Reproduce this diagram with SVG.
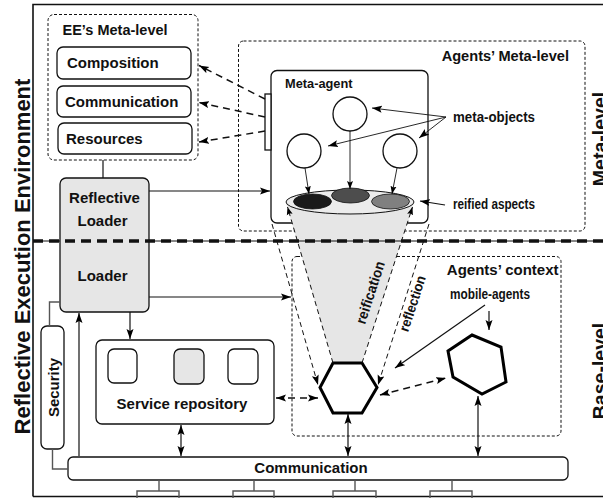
<svg xmlns="http://www.w3.org/2000/svg" width="603" height="498" viewBox="0 0 603 498">
<defs>
<marker id="ah" markerUnits="userSpaceOnUse" markerWidth="11" markerHeight="8" refX="10" refY="4" orient="auto-start-reverse" viewBox="0 0 11 8">
<path d="M0,0.5 L10,4 L0,7.5 L2,4 z" fill="#000"/>
</marker>
<marker id="ahs" markerUnits="userSpaceOnUse" markerWidth="9" markerHeight="7" refX="8" refY="3.5" orient="auto-start-reverse" viewBox="0 0 9 7">
<path d="M0,0.5 L8,3.5 L0,6.5 L1.5,3.5 z" fill="#000"/>
</marker>
</defs>
<style>
text{font-family:"Liberation Sans",Arial,sans-serif;font-weight:bold;fill:#111}
.box{fill:#fff;stroke:#111;stroke-width:1.3}
.gray{fill:#e6e6e6;stroke:#111;stroke-width:1.3}
.dot{fill:none;stroke:#111;stroke-width:1;stroke-dasharray:3 2}
.ln{fill:none;stroke:#111;stroke-width:1.2}
.thin{fill:none;stroke:#111;stroke-width:0.9}
.dash{fill:none;stroke:#111;stroke-width:1.5;stroke-dasharray:7 5}
.tdash{fill:none;stroke:#111;stroke-width:1;stroke-dasharray:5 3.5}
.hex{fill:#fff;stroke:#000;stroke-width:3;stroke-linejoin:miter}
.grayln{fill:none;stroke:#555;stroke-width:1.4}
.t15{font-size:15px}
.narrow{font-size:14px}
</style>

<g id="frame">
<path d="M33,496.5 L33,4.5 L603,4.5" fill="none" stroke="#111" stroke-width="1.6"/>
<path d="M33,496.5 L603,496.5" fill="none" stroke="#111" stroke-width="1.6"/>
<text transform="translate(29.5,256.5) rotate(-90)" text-anchor="middle" font-size="22">Reflective Execution Environment</text>
<text transform="translate(607,139) rotate(-90)" text-anchor="middle" font-size="19.5">Meta-level</text>
<text transform="translate(607,371) rotate(-90)" text-anchor="middle" font-size="19.5">Base-level</text>
</g>

<g id="ee-meta-level">
<rect x="48" y="14.5" width="150" height="145.5" rx="6" class="dot"/>
<text x="62.5" y="34.5" font-size="14.5">EE’s Meta-level</text>
</g>
<g id="composition">
<rect x="57" y="47" width="134" height="32" rx="6" class="box"/>
<text x="67" y="68" class="t15">Composition</text>
</g>
<g id="communication-meta">
<rect x="57" y="86" width="134" height="31" rx="6" class="box"/>
<text x="65" y="107" class="t15">Communication</text>
</g>
<g id="resources">
<rect x="58" y="123" width="134" height="31" rx="6" class="box"/>
<text x="66" y="144" class="t15">Resources</text>
</g>

<g id="reflective-loader">
<rect x="60" y="178" width="89" height="134" rx="6" class="gray"/>
<text x="104.5" y="203" text-anchor="middle" class="t15">Reflective</text>
<text x="102.5" y="226" text-anchor="middle" class="t15">Loader</text>
<text x="102.5" y="281" text-anchor="middle" class="t15">Loader</text>
</g>

<g id="security">
<rect x="41" y="326" width="23" height="123" rx="6" class="box"/>
<text transform="translate(59,387.5) rotate(-90)" text-anchor="middle" class="t15">Security</text>
</g>

<g id="service-repository">
<rect x="96" y="340" width="178" height="84" rx="6" class="box"/>
<rect x="108" y="349" width="29" height="34" rx="6" class="box"/>
<rect x="174" y="349" width="30" height="35" rx="6" class="gray"/>
<rect x="228" y="349" width="30" height="35" rx="6" class="box"/>
<text x="182" y="408.5" text-anchor="middle" class="t15">Service repository</text>
</g>

<g id="communication-bus">
<rect x="68" y="457" width="500" height="23" rx="5" class="box"/>
<text x="311" y="473" text-anchor="middle" class="t15">Communication</text>
<path d="M159,480 V491 M137,500 V491 H179 V500 M254,480 V491 M233,500 V491 H274 V500 M355,480 V491 M333,500 V491 H376 V500 M452,480 V491 M430,500 V491 H472 V500" class="grayln"/>
</g>

<g id="agents-meta-level">
<rect x="238.5" y="41" width="346.5" height="190" rx="5" class="dot"/>
<text x="569" y="61" text-anchor="end" font-size="14.6">Agents’ Meta-level</text>
</g>

<g id="agents-context">
<rect x="292" y="256.5" width="269" height="179.5" rx="5" class="dot"/>
<text x="558.5" y="274.5" text-anchor="end" class="t15">Agents’ context</text>
</g>

<g id="meta-agent">
<rect x="271" y="70.5" width="157" height="152.5" rx="6" class="box"/>
<rect x="265" y="94" width="6" height="56" class="box" stroke-width="1"/>
<text x="285" y="87.5" font-size="13" textLength="67.5" lengthAdjust="spacingAndGlyphs">Meta-agent</text>
</g>

<g id="cone">
<polygon points="286,203 414,203 362,363 333,363" fill="#e6e6e6"/>
</g>

<g id="level-separator">
<path d="M33,241 H60 M149,241 H603" fill="none" stroke="#111" stroke-width="1"/>
<path d="M33,241 H603" fill="none" stroke="#111" stroke-width="3.5" stroke-dasharray="10 6"/>
</g>

<g id="reified-aspects">
<ellipse cx="350" cy="202" rx="64" ry="12" fill="#ececec" stroke="#111" stroke-width="1"/>
<ellipse cx="312.5" cy="201.5" rx="19" ry="7.5" fill="#1a1a1a" stroke="#111" stroke-width="0.8"/>
<ellipse cx="350.5" cy="195.5" rx="19" ry="7.5" fill="#4d4d4d" stroke="#111" stroke-width="0.8"/>
<ellipse cx="390.5" cy="201.5" rx="19" ry="7.5" fill="#808080" stroke="#111" stroke-width="0.8"/>
</g>

<g id="meta-object-1"><circle cx="350" cy="114" r="17" class="box" stroke-width="1"/></g>
<g id="meta-object-2"><circle cx="304" cy="151" r="17" class="box" stroke-width="1"/></g>
<g id="meta-object-3"><circle cx="400" cy="151" r="17" class="box" stroke-width="1"/></g>

<g id="agent-1">
<polygon points="333,363 362,363 377,387.5 362,413 333,413 320,387.5" class="hex"/>
</g>
<g id="agent-2">
<polygon points="472,335 501,347 506,382 482,394 453,377 448,351" class="hex"/>
</g>

<g id="labels">
<text x="453" y="121.5" class="narrow" font-size="14.5" textLength="82" lengthAdjust="spacingAndGlyphs">meta-objects</text>
<text x="453" y="208.5" class="narrow" textLength="82" lengthAdjust="spacingAndGlyphs">reified aspects</text>
<text x="450" y="298.5" class="narrow" font-size="13" textLength="80" lengthAdjust="spacingAndGlyphs">mobile-agents</text>
<text transform="translate(375,294) rotate(-72)" text-anchor="middle" font-size="14.5" textLength="65" lengthAdjust="spacingAndGlyphs">reification</text>
<text transform="translate(417,305) rotate(-72)" text-anchor="middle" font-size="14" textLength="58" lengthAdjust="spacingAndGlyphs">reflection</text>
</g>

<g id="connectors">
<path d="M103,160 V178" class="ln"/>
<path d="M265,99 L199,65.5" class="dash" marker-end="url(#ah)"/>
<path d="M265,117 L199,102.5" class="dash" marker-end="url(#ah)"/>
<path d="M265,131 L199,142" class="dash" marker-end="url(#ah)"/>
<path d="M149,191 H270" class="ln" marker-end="url(#ah)"/>
<path d="M149,297 H291" class="ln" marker-end="url(#ah)"/>
<path d="M130,312 V339" class="ln" marker-end="url(#ah)"/>
<path d="M79,456 V313" class="ln" marker-end="url(#ah)"/>
<path d="M60,302 H49.5 V326" class="grayln" stroke-width="1.2"/>
<path d="M52.5,449 V469 H68" class="grayln" stroke-width="1.2"/>
<path d="M181,425 V456" class="ln" marker-start="url(#ah)" marker-end="url(#ah)"/>
<path d="M348,414 V456" class="ln" marker-start="url(#ah)" marker-end="url(#ah)"/>
<path d="M478,396 V456" class="ln" marker-start="url(#ah)" marker-end="url(#ah)"/>
<path d="M276,398 H318" class="dash" marker-start="url(#ah)" marker-end="url(#ah)"/>
<path d="M380,395 L446,378" class="dash" marker-start="url(#ah)" marker-end="url(#ah)"/>
<path d="M485,305 L395,368" class="ln" marker-end="url(#ah)"/>
<path d="M489,311 V330" class="ln" marker-end="url(#ah)"/>
<path d="M305,168 L309,194" class="thin" marker-end="url(#ahs)"/>
<path d="M350,131 V189" class="thin" marker-end="url(#ahs)"/>
<path d="M397,168 L392,194" class="thin" marker-end="url(#ahs)"/>
<path d="M446,117 L372,108" class="thin" marker-end="url(#ah)"/>
<path d="M446,117 L328,146" class="thin" marker-end="url(#ah)"/>
<path d="M446,117 L419,138" class="thin" marker-end="url(#ah)"/>
<path d="M445,205 L420,201" class="ln" marker-end="url(#ah)"/>
<path d="M333,363 L287.5,207" class="tdash" marker-end="url(#ahs)"/>
<path d="M362,363 L412.5,207" class="tdash" marker-end="url(#ahs)"/>
<path d="M272,224 L318,385" class="tdash" marker-end="url(#ah)"/>
<path d="M429,224 L378,385" class="tdash" marker-end="url(#ah)"/>
</g>
</svg>
